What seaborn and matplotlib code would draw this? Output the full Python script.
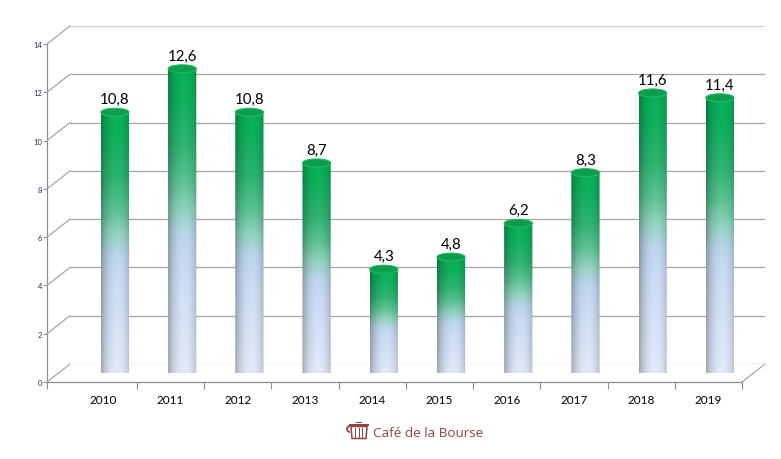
import numpy as np
import pandas as pd
import matplotlib
matplotlib.use("Agg")
import matplotlib.pyplot as plt
import seaborn as sns
from matplotlib.colors import to_rgb
from matplotlib.path import Path
from matplotlib.patches import PathPatch, Ellipse, ConnectionPatch, Rectangle, Polygon, Arc
from matplotlib.transforms import Affine2D

# ---------------- data ----------------
years = ["2010", "2011", "2012", "2013", "2014", "2015", "2016", "2017", "2018", "2019"]
values = [10.8, 12.6, 10.8, 8.7, 4.3, 4.8, 6.2, 8.3, 11.6, 11.4]
value_labels = ["10,8", "12,6", "10,8", "8,7", "4,3", "4,8", "6,2", "8,3", "11,6", "11,4"]
y_ticks = [0, 2, 4, 6, 8, 10, 12, 14]
brand = "Café de la Bourse"

df = pd.DataFrame({"year": years, "value": values})

sns.set_theme(style="white")
plt.rcParams['font.family'] = ['Lato', 'DejaVu Sans']

W, H = 781, 460
fig = plt.figure(figsize=(W / 100, H / 100), dpi=100)
fig.patch.set_facecolor("white")

def rect(l, b, w, h):
    return [l / W, b / H, w / W, h / H]

fx0, fx1, fy0, fy1 = 47, 742, 77, 415
dxm, dym = 11.5, 9       # mid-depth offset (bars)
dxb, dyb = 23, 18        # back-wall offset
aw, ah = fx1 - fx0, fy1 - fy0
XL = (-0.84, 9.5)
YL = (0, 14)

ax_back = fig.add_axes(rect(fx0 + dxb, fy0 + dyb, aw, ah))
ax_front = fig.add_axes(rect(fx0, fy0, aw, ah))
ax_bar = fig.add_axes(rect(fx0 + dxm, fy0 + dym, aw, ah))
for a in (ax_back, ax_front, ax_bar):
    a.set_xlim(XL)
    a.set_ylim(YL)
    a.patch.set_alpha(0)
    for s in a.spines.values():
        s.set_visible(False)
    a.set_xlabel("")
    a.set_ylabel("")

grid_c = "#a6a6a6"
# back wall gridlines
for v in y_ticks:
    ax_back.axhline(v, color="#cfcfcf" if v == y_ticks[-1] else grid_c, lw=0.9)
ax_back.set_xticks([])
ax_back.set_yticks([])

# side-wall diagonals
for v in y_ticks:
    fig.add_artist(ConnectionPatch(xyA=(XL[0], v), coordsA=ax_front.transData,
                                   xyB=(XL[0], v), coordsB=ax_back.transData,
                                   color=grid_c, lw=0.9))
fig.add_artist(ConnectionPatch(xyA=(XL[1], 0), coordsA=ax_front.transData,
                               xyB=(XL[1], 0), coordsB=ax_back.transData,
                               color=grid_c, lw=0.9))

# front axes
ax_front.spines["left"].set_visible(True)
ax_front.spines["bottom"].set_visible(True)
ax_front.spines["left"].set_color("#8c8c8c")
ax_front.spines["bottom"].set_color("#8c8c8c")
ax_front.spines["left"].set_linewidth(0.9)
ax_front.spines["bottom"].set_linewidth(0.9)
ax_front.set_yticks(y_ticks)
ax_front.set_yticklabels([str(t) for t in y_ticks])
ax_front.tick_params(axis="y", which="major", left=True, length=3, width=0.8, color="#8c8c8c",
                     labelsize=5.5, labelcolor="#1F3568", pad=0.5, direction="out")
ax_front.set_xticks([XL[0]] + [i + 0.5 for i in range(len(years))])
ax_front.set_xticklabels([])
ax_front.set_xticks(range(len(years)), minor=True)
ax_front.set_xticklabels(years, minor=True)
ax_front.tick_params(axis="x", which="major", bottom=True, length=5, width=0.8, color="#8c8c8c",
                     direction="out")
ax_front.tick_params(axis="x", which="minor", bottom=True, length=0, labelsize=8.5,
                     labelcolor="black", pad=9)

# bars
sns.barplot(data=df, x="year", y="value", ax=ax_bar, width=0.42, color="white",
            saturation=1, errorbar=None)
ax_bar.set_xlim(XL)
ax_bar.set_ylim(YL)
ax_bar.set_xticks([])
ax_bar.set_yticks([])
ax_bar.set_xlabel("")
ax_bar.set_ylabel("")

stops = [(0.00, "#06B257"), (0.10, "#10B05E"), (0.25, "#2EB472"), (0.37, "#5CC394"),
         (0.46, "#92D3C0"), (0.54, "#BAD6EB"), (0.62, "#C9DAF3"), (1.00, "#E3EBFA")]
sp = np.array([s[0] for s in stops])
sc = np.array([to_rgb(s[1]) for s in stops])

ppu_y = ah / (YL[1] - YL[0])
eh = 8.0 / ppu_y

for p, v, lab in zip(list(ax_bar.patches), values, value_labels):
    x0 = p.get_x()
    w = p.get_width()
    hgt = p.get_height()
    xc = x0 + w / 2
    p.set_visible(False)
    n = 200
    f = np.linspace(0, 1, n)
    col = np.stack([np.interp(f, sp, sc[:, k]) for k in range(3)], axis=1)
    u = np.linspace(0, 1, 60)
    shade = 0.62 + 0.38 * np.clip(np.sin(np.pi * (u * 0.92 + 0.02)), 0, 1) ** 0.5
    shade = shade * (0.94 + 0.06 * u)
    img = col[:, None, :] * shade[None, :, None]
    img = np.clip(img / shade.max(), 0, 1)
    # clip path: rectangle plus bottom half-ellipse
    t = np.linspace(0, np.pi, 40)
    arc_x = xc + (w / 2) * np.cos(t)
    arc_y = -(eh / 2) * np.sin(t)
    verts = [(x0, hgt), (x0 + w, hgt)] + list(zip(arc_x, arc_y)) + [(x0, hgt)]
    codes = [Path.MOVETO] + [Path.LINETO] * (len(verts) - 2) + [Path.CLOSEPOLY]
    clip = PathPatch(Path(verts, codes), facecolor="none", edgecolor="none",
                     transform=ax_bar.transData)
    ax_bar.add_patch(clip)
    im = ax_bar.imshow(img, extent=(x0, x0 + w, -eh / 2, hgt), origin="upper",
                       aspect="auto", interpolation="bilinear", zorder=2)
    im.set_clip_path(clip)
    top = Ellipse((xc, hgt), w, eh, facecolor="#0C9E4B", edgecolor="#22B866", lw=0.8, zorder=3)
    ax_bar.add_patch(top)
    ax_bar.annotate(lab, (xc, hgt), xytext=(0, 6.5), textcoords="offset points",
                    ha="center", va="baseline", fontsize=10.8, color="black", zorder=4)

ax_bar.set_xlim(XL)
ax_bar.set_ylim(YL)

# brand footer
pix = Affine2D().scale(1, -1).translate(0, H).scale(1 / W, 1 / H) + fig.transFigure
bc = "#93433E"
fig.text(373 / W, 1 - 434 / H, brand, ha="left", va="center", fontsize=9.7,
         color=bc, family=["Open Sans", "DejaVu Sans"])
fig.add_artist(Rectangle((349, 424.5), 20, 2.2, transform=pix, facecolor=bc, edgecolor="none"))
fig.add_artist(Rectangle((356, 422.5), 6, 1.6, transform=pix, facecolor=bc, edgecolor="none"))
fig.add_artist(Polygon([(351, 427.5), (367, 427.5), (366, 439.5), (352, 439.5)], closed=True,
                       transform=pix, facecolor="none", edgecolor=bc, lw=1.1))
for xs in (355, 358.5, 362):
    fig.add_artist(Rectangle((xs, 429), 1.4, 9.5, transform=pix, facecolor=bc, edgecolor="none"))
fig.add_artist(Arc((350, 430), 6, 6, theta1=90, theta2=270, transform=pix, color=bc, lw=1.3))

fig.savefig("out.png", dpi=100, facecolor="white")
